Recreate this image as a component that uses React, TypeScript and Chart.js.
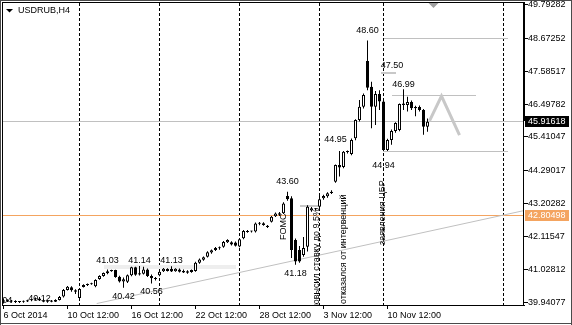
import React, { useEffect, useRef } from 'react';
import { Chart, registerables } from 'chart.js';

Chart.register(...registerables);

const FONT = "'Liberation Sans', Arial, sans-serif";

// H4 candles (bar index 0 = first visible bar, 6 Oct 2014)
const opens = [
  39.96, 40.01, 39.98, 39.97, 39.95, 39.96, 39.97, 40.01, 40.04, 40.07,
  40.00, 39.96, 40.00, 39.96, 40.02, 40.13, 40.35, 40.44, 40.34, 40.08,
  40.45, 40.51, 40.54, 40.47, 40.71, 40.81, 40.90, 40.97, 41.01, 40.79,
  40.63, 40.62, 40.84, 41.10, 40.86, 40.89, 41.03, 40.81, 40.73, 40.84,
  40.97, 40.98, 41.04, 40.97, 41.03, 40.98, 40.97, 40.94, 40.98, 41.25,
  41.35, 41.45, 41.59, 41.67, 41.73, 41.78, 41.93, 41.93, 41.92, 41.79,
  42.06, 42.29, 42.28, 42.28, 42.54, 42.56, 42.47, 42.61, 42.79, 42.89,
  42.89, 43.46, 43.38, 42.00, 41.67, 41.51, 41.78, 42.98, 43.02, 43.10,
  43.38, 43.45, 43.56, 43.93, 44.48, 44.42, 44.91, 44.85, 45.37, 45.97,
  46.41, 47.92, 47.07, 46.41, 46.83, 46.58, 44.98, 45.31, 45.61, 45.64,
  46.47, 46.47, 46.57, 46.36, 46.40, 46.30, 45.75,
];
const highs = [
  40.06, 40.04, 40.02, 40.01, 39.98, 40.00, 40.03, 40.06, 40.10, 40.12,
  40.06, 40.02, 40.02, 40.04, 40.15, 40.38, 40.48, 40.47, 40.37, 40.41,
  40.54, 40.56, 40.59, 40.70, 40.84, 40.93, 41.03, 41.02, 41.02, 40.82,
  40.76, 40.86, 41.12, 41.12, 41.14, 41.12, 41.06, 40.86, 40.78, 41.00,
  41.08, 41.07, 41.13, 41.07, 41.06, 41.03, 41.00, 41.03, 41.28, 41.39,
  41.46, 41.63, 41.69, 41.77, 41.79, 41.97, 42.03, 41.96, 41.95, 42.06,
  42.33, 42.33, 42.31, 42.58, 42.60, 42.59, 42.50, 42.80, 42.91, 42.93,
  43.25, 43.60, 43.45, 42.05, 41.80, 42.10, 43.15, 43.09, 43.06, 43.55,
  43.50, 43.58, 43.65, 44.50, 44.95, 44.95, 44.96, 45.36, 46.00, 46.63,
  46.85, 48.60, 47.24, 46.93, 46.96, 46.67, 45.35, 45.66, 45.90, 46.52,
  46.99, 46.74, 46.62, 46.44, 46.45, 46.34, 46.02,
];
const lows = [
  39.90, 39.95, 39.93, 39.92, 39.92, 39.93, 39.95, 39.98, 40.00, 39.99,
  39.94, 39.93, 39.94, 39.95, 40.00, 40.10, 40.33, 40.29, 40.22, 40.05,
  40.43, 40.48, 40.52, 40.44, 40.69, 40.79, 40.87, 40.95, 40.75, 40.60,
  40.42, 40.58, 40.80, 40.82, 40.83, 40.86, 40.78, 40.56, 40.66, 40.80,
  40.94, 40.96, 40.94, 40.95, 40.93, 40.91, 40.89, 40.92, 40.95, 41.22,
  41.32, 41.42, 41.55, 41.64, 41.68, 41.75, 41.90, 41.82, 41.79, 41.76,
  42.03, 42.24, 42.25, 42.25, 42.49, 42.47, 42.40, 42.58, 42.76, 42.80,
  42.86, 43.30, 41.41, 41.18, 41.25, 41.45, 41.62, 42.94, 42.98, 43.06,
  43.33, 43.40, 43.52, 43.90, 44.10, 44.38, 44.86, 44.81, 45.30, 45.92,
  46.35, 46.96, 45.70, 45.81, 46.30, 44.94, 44.95, 45.15, 45.55, 45.60,
  46.30, 46.25, 46.30, 46.10, 46.25, 45.48, 45.58,
];
const closes = [
  40.01, 39.98, 39.97, 39.95, 39.96, 39.97, 40.01, 40.04, 40.07, 40.00,
  39.96, 40.00, 39.96, 40.02, 40.12, 40.35, 40.46, 40.34, 40.29, 40.38,
  40.51, 40.54, 40.57, 40.68, 40.81, 40.91, 40.97, 41.01, 40.78, 40.63,
  40.70, 40.84, 41.10, 40.85, 40.90, 41.03, 40.81, 40.74, 40.71, 40.95,
  41.05, 41.04, 40.96, 41.05, 40.95, 40.93, 40.92, 41.01, 41.25, 41.36,
  41.43, 41.60, 41.66, 41.74, 41.76, 41.94, 42.00, 41.85, 41.81, 42.03,
  42.30, 42.27, 42.29, 42.55, 42.57, 42.50, 42.43, 42.77, 42.88, 42.84,
  43.21, 43.35, 41.67, 41.29, 41.29, 41.74, 43.10, 43.05, 43.03, 43.35,
  43.46, 43.55, 43.60, 44.48, 44.40, 44.92, 44.93, 45.31, 45.97, 46.41,
  46.80, 47.04, 46.41, 46.83, 46.58, 44.98, 45.31, 45.61, 45.87, 46.50,
  46.52, 46.57, 46.36, 46.40, 46.30, 45.75, 45.91618,
];

// axes
const xTickIndex = [0, 16, 32, 48, 64, 80, 96];
const xTickLabels = ['6 Oct 2014', '10 Oct 12:00', '16 Oct 12:00', '22 Oct 12:00', '28 Oct 12:00', '3 Nov 12:00', '10 Nov 12:00'];
const yTickValues = [39.94077, 41.02812, 42.11547, 43.20282, 44.29017, 45.41047, 46.49782, 47.58517, 48.67252, 49.79282];
const xMin = -0.125;
const xMax = 129.875;
const yMin = 39.8522;
const yMax = 49.8424;

// period separators (bar index)
const separatorIndex = [19, 39, 59, 79, 95, 125];

// price levels
const currentPrice = 45.91618;
const orangeLevel = 42.80498;

// level segments: start index, end index, price
const segStart = [25, 74, 94.25, 95, 95, 97];
const segEnd = [58, 78.5, 98, 126, 126, 118];
const segPrice = [41.108, 43.126, 47.536, 48.6746, 44.923, 46.766];
const segWidth = [4, 2, 2, 1, 1, 1];
const segColor = ['#eeeeee', '#c8c8c8', '#c8c8c8', '#c0c0c0', '#c0c0c0', '#c0c0c0'];

// trend line and projected zigzag
const trendX = [23.3, 130];
const trendY = [39.90, 42.972];
const zigX = [106.5, 109.5, 114];
const zigY = [45.94, 46.765, 45.475];

// extreme labels
const markText = ['40.04', '40.12', '41.03', '41.14', '41.13', '40.42', '40.56', '43.60', '41.18', '44.95', '48.60', '47.50', '46.99', '44.94'];
const markIndex = [-0.6, 9, 26, 34, 42, 30, 37, 71, 73, 83, 91, 97.1, 100, 95];
const markPrice = [40.0, 40.066, 41.34, 41.34, 41.34, 40.133, 40.282, 43.953, 40.887, 45.31, 48.916, 47.758, 47.146, 44.45];

// vertical notes
const noteText = ['FOMC', 'повысил ставку до 9.5%', 'отказался от интервенций', 'заявления ЦБР'];
const noteIndex = [70, 78.25, 85.1, 94.9];
const notePrice = [42.0, 43.06, 39.885, 41.837];
const noteAlign = ['left', 'right', 'left', 'left'];

const chartShiftIndex = 107.5;

const overlayPlugin = {
  id: 'mtOverlay',
  beforeDatasetsDraw(chart: any) {
    const { ctx, chartArea: ca, scales } = chart;
    const x = scales.x;
    const y = scales.y;
    ctx.save();
    ctx.beginPath();
    ctx.rect(ca.left, ca.top, ca.right - ca.left, ca.bottom - ca.top);
    ctx.clip();

    // separators
    ctx.strokeStyle = '#000';
    ctx.lineWidth = 1;
    ctx.setLineDash([3, 2]);
    separatorIndex.forEach((i) => {
      const px = Math.round(x.getPixelForValue(i) - 0.5) + 0.5;
      ctx.beginPath();
      ctx.moveTo(px, ca.top);
      ctx.lineTo(px, ca.bottom);
      ctx.stroke();
    });
    ctx.setLineDash([]);

    const hline = (x1: number, x2: number, price: number, w: number, color: string) => {
      let py = y.getPixelForValue(price);
      py = w % 2 === 1 ? Math.floor(py) + 0.5 : Math.round(py);
      ctx.strokeStyle = color;
      ctx.lineWidth = w;
      ctx.beginPath();
      ctx.moveTo(x1, py);
      ctx.lineTo(x2, py);
      ctx.stroke();
    };

    segPrice.forEach((p, k) => {
      hline(Math.round(x.getPixelForValue(segStart[k])), Math.round(x.getPixelForValue(segEnd[k])), p, segWidth[k], segColor[k]);
    });
    hline(ca.left, ca.right, currentPrice, 1, '#c0c0c0');
    hline(ca.left, ca.right, orangeLevel, 1, '#f4a460');
    ctx.restore();
  },
  afterDatasetsDraw(chart: any) {
    const { ctx, chartArea: ca, scales } = chart;
    const x = scales.x;
    const y = scales.y;
    ctx.save();
    ctx.beginPath();
    ctx.rect(ca.left, ca.top, ca.right - ca.left, ca.bottom - ca.top);
    ctx.clip();
    ctx.fillStyle = '#000';
    ctx.font = `9px ${FONT}`;
    ctx.textAlign = 'center';
    ctx.textBaseline = 'middle';
    markText.forEach((t, k) => {
      ctx.fillText(t, x.getPixelForValue(markIndex[k]), y.getPixelForValue(markPrice[k]));
    });
    noteText.forEach((t, k) => {
      ctx.save();
      ctx.translate(Math.round(x.getPixelForValue(noteIndex[k])), y.getPixelForValue(notePrice[k]));
      ctx.rotate(-Math.PI / 2);
      ctx.textAlign = noteAlign[k] as CanvasTextAlign;
      ctx.textBaseline = 'middle';
      ctx.fillText(t, 0, 0);
      ctx.restore();
    });
    // chart shift marker
    const sx = x.getPixelForValue(chartShiftIndex);
    ctx.fillStyle = '#a0a0a0';
    ctx.beginPath();
    ctx.moveTo(sx - 5, ca.top);
    ctx.lineTo(sx + 5, ca.top);
    ctx.lineTo(sx, ca.top + 5);
    ctx.closePath();
    ctx.fill();
    ctx.restore();
  },
  afterDraw(chart: any) {
    const { ctx, chartArea: ca, scales, width, height } = chart;
    const y = scales.y;
    ctx.save();
    // outer window frame
    ctx.fillStyle = '#4a4a4a';
    ctx.fillRect(0, 0, width, 1);
    ctx.fillRect(0, 0, 1, height);
    ctx.fillRect(0, height - 2, width, 1);
    ctx.fillRect(width - 1, 0, 1, height);
    // plot frame
    const cy = Math.floor(y.getPixelForValue(currentPrice));
    ctx.fillStyle = '#000';
    ctx.fillRect(ca.left - 1, ca.top - 1, ca.right - ca.left + 2, 1);
    ctx.fillRect(ca.left - 1, ca.top - 1, 1, ca.bottom - ca.top + 2);
    ctx.fillRect(ca.left - 1, ca.bottom, ca.right - ca.left + 3, 1);
    ctx.fillRect(ca.right, ca.top - 1, 2, cy - ca.top + 1);
    ctx.fillRect(ca.right, cy, 1, ca.bottom - cy);

    // price boxes
    ctx.font = `9px ${FONT}`;
    ctx.textAlign = 'left';
    ctx.textBaseline = 'middle';
    const box = (price: number, bg: string) => {
      const py = Math.floor(y.getPixelForValue(price));
      ctx.fillStyle = bg;
      ctx.fillRect(ca.right + 2, py - 5, 44, 11);
      ctx.fillStyle = '#fff';
      ctx.fillText(price.toFixed(5), ca.right + 5, py + 0.5);
    };
    box(currentPrice, '#000');
    box(orangeLevel, '#f4a460');

    // title
    ctx.fillStyle = '#000';
    ctx.beginPath();
    ctx.moveTo(6, 9);
    ctx.lineTo(13, 9);
    ctx.lineTo(9.5, 12.5);
    ctx.closePath();
    ctx.fill();
    ctx.fillText('USDRUB,H4', 18, 10.5);
    ctx.restore();
  },
};

export default function App() {
  const canvasRef = useRef<HTMLCanvasElement | null>(null);

  useEffect(() => {
    const canvas = canvasRef.current;
    if (!canvas) return;
    const bodies = opens.map((o, i) => ({ x: i, y: [o, closes[i]] }));
    const wicks = lows.map((l, i) => ({ x: i, y: [l, highs[i]] }));
    const bodyColors = opens.map((o, i) => (closes[i] >= o ? '#ffffff' : '#000000'));
    const trendPts = trendX.map((v, k) => ({ x: v, y: trendY[k] }));
    const zigPts = zigX.map((v, k) => ({ x: v, y: zigY[k] }));

    const chart = new Chart(canvas, {
      type: 'bar',
      data: {
        datasets: [
          {
            type: 'line',
            data: trendPts,
            borderColor: '#c0c0c0',
            borderWidth: 1,
            pointRadius: 0,
            tension: 0,
            order: 10,
          } as any,
          {
            type: 'line',
            data: zigPts,
            borderColor: '#c8c8c8',
            borderWidth: 3,
            pointRadius: 0,
            tension: 0,
            order: 9,
          } as any,
          {
            type: 'bar',
            data: wicks,
            backgroundColor: '#000',
            borderWidth: 0,
            barThickness: 1,
            grouped: false,
            inflateAmount: 0,
            order: 2,
          } as any,
          {
            type: 'bar',
            data: bodies,
            backgroundColor: bodyColors,
            borderColor: '#000',
            borderWidth: 1,
            borderSkipped: false,
            barThickness: 3,
            grouped: false,
            inflateAmount: 0,
            minBarLength: 1,
            order: 1,
          } as any,
        ],
      },
      options: {
        animation: false,
        responsive: false,
        devicePixelRatio: 1,
        layout: { padding: { left: 3, top: 3, right: 0, bottom: 0 } },
        plugins: { legend: { display: false }, tooltip: { enabled: false } },
        scales: {
          x: {
            type: 'linear',
            min: xMin,
            max: xMax,
            offset: false,
            grid: { display: true, drawOnChartArea: false, drawTicks: true, tickLength: 4, color: '#000', offset: false },
            border: { display: false },
            ticks: {
              autoSkip: false,
              maxRotation: 0,
              minRotation: 0,
              align: 'start',
              padding: 1,
              color: '#000',
              font: { family: FONT, size: 9 },
              callback: (_v: any, idx: number) => xTickLabels[idx],
            },
            afterBuildTicks: (s: any) => {
              s.ticks = xTickIndex.map((v) => ({ value: v }));
            },
            afterFit: (s: any) => {
              s.height = 20;
              s.paddingLeft = 0;
              s.paddingRight = 0;
              s.paddingTop = 0;
              s.paddingBottom = 0;
            },
          } as any,
          y: {
            type: 'linear',
            position: 'right',
            min: yMin,
            max: yMax,
            beginAtZero: false,
            grid: { display: true, drawOnChartArea: false, drawTicks: true, tickLength: 5, color: '#000' },
            border: { display: false },
            ticks: {
              autoSkip: false,
              padding: 0,
              color: '#000',
              font: { family: FONT, size: 9 },
              callback: (v: any) => Number(v).toFixed(5),
            },
            afterBuildTicks: (s: any) => {
              s.ticks = yTickValues.map((v) => ({ value: v }));
            },
            afterFit: (s: any) => {
              s.width = 49;
              s.paddingLeft = 0;
              s.paddingRight = 0;
              s.paddingTop = 0;
              s.paddingBottom = 0;
            },
          } as any,
        },
      },
      plugins: [overlayPlugin],
    });

    return () => {
      chart.destroy();
    };
  }, []);

  return (
    <div style={{ position: 'absolute', left: 0, top: 0, width: 572, height: 325, background: '#fff' }}>
      <canvas ref={canvasRef} width={572} height={325} style={{ display: 'block', width: 572, height: 325 }} />
    </div>
  );
}
